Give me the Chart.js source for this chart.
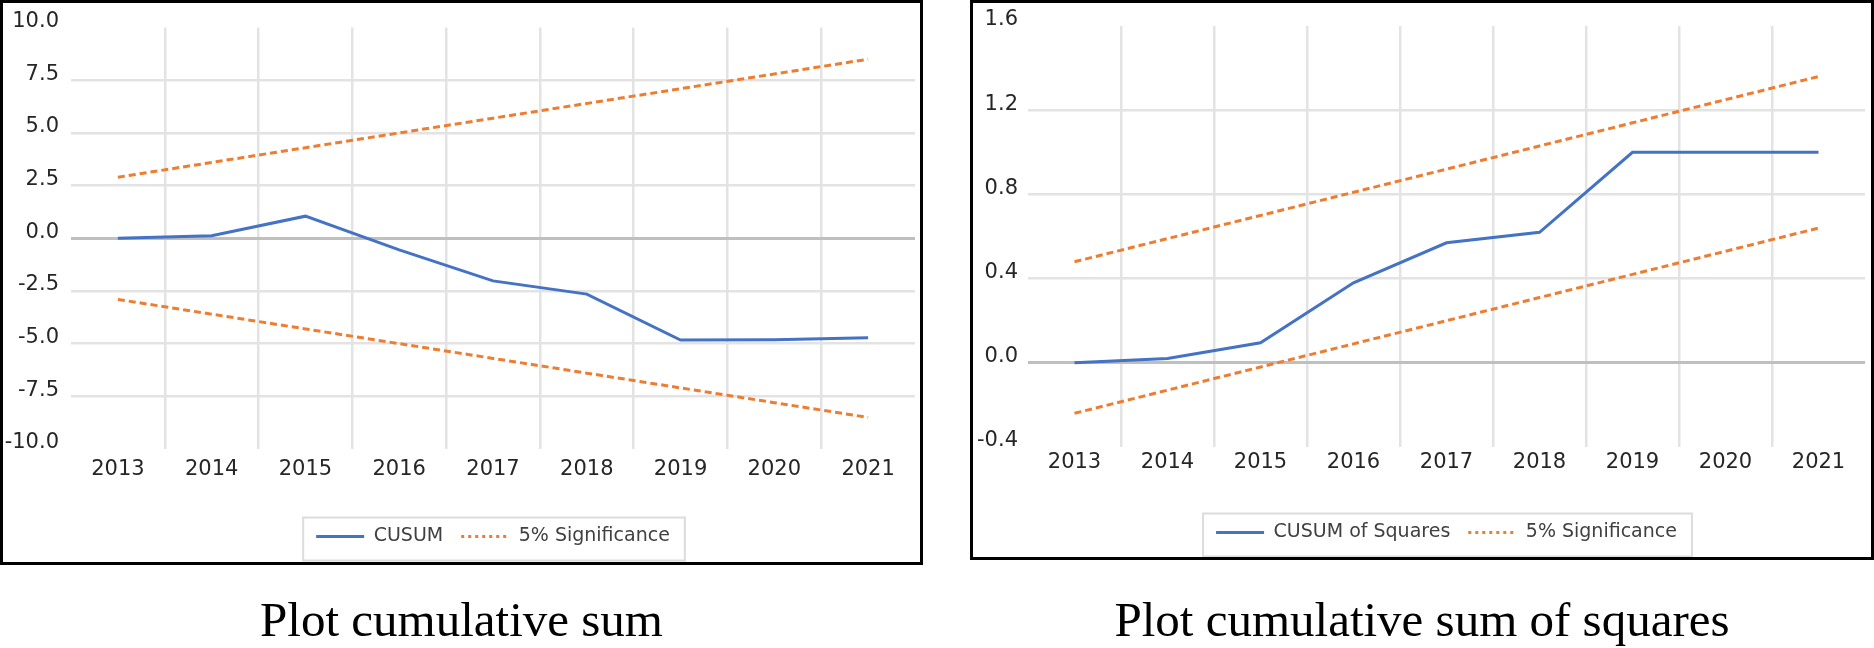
<!DOCTYPE html>
<html lang="en">
<head>
    <meta charset="UTF-8">
    <title>CUSUM and CUSUM of squares</title>
    <script src="https://cdn.jsdelivr.net/npm/chart.js@4.4.0/dist/chart.umd.min.js"></script>
    <style>
        body {
            margin: 0;
            width: 1874px;
            height: 648px;
            background: #fff;
            position: relative;
            overflow: hidden;
        }
        .frame {
            position: absolute;
            top: 0;
            border: 3px solid #000;
            box-sizing: border-box;
        }
        #frameA { left: 0; width: 923px; height: 565px; }
        #frameB { left: 970px; width: 904px; height: 560px; }
        .frame .wrap { position: relative; width: 100%; height: 100%; }
        .caption {
            position: absolute;
            top: 595px;
            font-family: "Liberation Serif", "Times New Roman", serif;
            font-size: 49px;
            line-height: 49px;
            text-align: center;
            color: #000;
            white-space: nowrap;
        }
        #capA { left: 0; width: 923px; }
        #capB { left: 970px; width: 904px; }
    </style>
</head>
<body>
    <div class="frame" id="frameA"><div class="wrap"><canvas id="cusumChart"></canvas></div></div>
    <div class="frame" id="frameB"><div class="wrap"><canvas id="cusumSqChart"></canvas></div></div>
    <div class="caption" id="capA">Plot cumulative sum</div>
    <div class="caption" id="capB">Plot cumulative sum of squares</div>

    <script>
        const years = ['2013', '2014', '2015', '2016', '2017', '2018', '2019', '2020', '2021'];

        // left panel
        const cusum = [0.0, 0.12, 1.05, -0.55, -2.02, -2.65, -4.83, -4.82, -4.72];
        const cusumUpper = [2.9, 3.6, 4.3, 5.0, 5.7, 6.4, 7.1, 7.8, 8.5];
        const cusumLower = [-2.9, -3.6, -4.3, -5.0, -5.7, -6.4, -7.1, -7.8, -8.5];

        // right panel
        const cusumSq = [0.0, 0.02, 0.095, 0.38, 0.57, 0.62, 1.0, 1.0, 1.0];
        const sqUpper = [0.48, 0.59, 0.70, 0.81, 0.92, 1.03, 1.14, 1.25, 1.36];
        const sqLower = [-0.24, -0.13, -0.02, 0.09, 0.20, 0.31, 0.42, 0.53, 0.64];

        const BLUE = '#4472C4';
        const ORANGE = '#ED7D31';
        const TEXT = '#262626';

        // grey box Excel draws round the legend
        const legendFrame = {
            id: 'legendFrame',
            afterDraw(chart) {
                const hb = chart.legend && chart.legend.legendHitBoxes;
                if (!hb || !hb.length) return;
                const first = hb[0];
                const last = hb[hb.length - 1];
                const cy = first.top + first.height / 2;
                const ctx = chart.ctx;
                ctx.save();
                ctx.strokeStyle = '#dcdcdc';
                ctx.lineWidth = 2;
                ctx.strokeRect(first.left - 13, cy - 19, last.left + last.width - first.left + 28, 43);
                ctx.restore();
            }
        };

        function makeChart(id, p) {
            const isZero = v => Math.abs(v) < 1e-9;
            return new Chart(document.getElementById(id), {
                type: 'line',
                data: {
                    labels: years,
                    datasets: [{
                        label: p.mainLabel,
                        data: p.main,
                        borderColor: BLUE,
                        borderWidth: 3,
                        pointRadius: 0,
                        tension: 0,
                        fill: false
                    }, {
                        label: '5% Significance',
                        data: p.upper,
                        borderColor: ORANGE,
                        borderWidth: 3,
                        borderDash: [7, 4],
                        pointRadius: 0,
                        tension: 0,
                        fill: false
                    }, {
                        label: '5% Significance',
                        data: p.lower,
                        borderColor: ORANGE,
                        borderWidth: 3,
                        borderDash: [7, 4],
                        pointRadius: 0,
                        tension: 0,
                        fill: false
                    }]
                },
                options: {
                    responsive: true,
                    maintainAspectRatio: false,
                    animation: false,
                    layout: {
                        padding: { top: 23, left: 0, right: p.padRight, bottom: p.padBottom }
                    },
                    plugins: {
                        tooltip: { enabled: false },
                        legend: {
                            position: 'bottom',
                            fullSize: false,
                            labels: {
                                filter: item => item.datasetIndex !== 2,
                                usePointStyle: true,
                                pointStyle: 'line',
                                pointStyleWidth: 48,
                                padding: 18,
                                color: '#404040',
                                font: { family: 'DejaVu Sans', size: 19 },
                                generateLabels: chart => {
                                    const items = Chart.defaults.plugins.legend.labels.generateLabels(chart);
                                    items.forEach(it => {
                                        it.pointStyle = 'line';
                                        it.lineWidth = 3;
                                        if (it.datasetIndex > 0) it.lineDash = [3, 4];
                                    });
                                    return items;
                                }
                            }
                        }
                    },
                    scales: {
                        x: {
                            offset: true,
                            afterFit: s => { s.height = p.xHeight; },
                            border: { display: false },
                            grid: {
                                offset: true,
                                drawTicks: false,
                                lineWidth: 2.5,
                                color: c => (c.index === undefined || c.index === 0) ? 'rgba(0,0,0,0)' : '#e3e3e3'
                            },
                            ticks: {
                                padding: p.xPad,
                                maxRotation: 0,
                                autoSkip: false,
                                color: TEXT,
                                font: { family: 'DejaVu Sans', size: 21 }
                            }
                        },
                        y: {
                            min: p.min,
                            max: p.max,
                            afterFit: s => { s.width = p.yWidth; },
                            border: { display: false },
                            grid: {
                                drawTicks: false,
                                lineWidth: c => isZero(c.tick.value) ? 3 : 2.5,
                                color: c => {
                                    const v = c.tick.value;
                                    if (isZero(v)) return '#bfbfbf';
                                    if (v === p.min || v === p.max) return 'rgba(0,0,0,0)';
                                    return '#e3e3e3';
                                }
                            },
                            ticks: {
                                stepSize: p.step,
                                padding: p.yPad,
                                labelOffset: -6,
                                color: TEXT,
                                font: { family: 'DejaVu Sans', size: 21 },
                                callback: v => v.toFixed(1)
                            }
                        }
                    }
                },
                plugins: [legendFrame]
            });
        }

        makeChart('cusumChart', {
            mainLabel: 'CUSUM',
            main: cusum, upper: cusumUpper, lower: cusumLower,
            min: -10, max: 10, step: 2.5,
            yWidth: 68, yPad: 12,
            xHeight: 60, xPad: 8,
            padRight: 5, padBottom: 6
        });

        makeChart('cusumSqChart', {
            mainLabel: 'CUSUM of Squares',
            main: cusumSq, upper: sqUpper, lower: sqLower,
            min: -0.4, max: 1.6, step: 0.4,
            yWidth: 55, yPad: 10,
            xHeight: 58, xPad: 3,
            padRight: 6, padBottom: 5
        });
    </script>
</body>
</html>
